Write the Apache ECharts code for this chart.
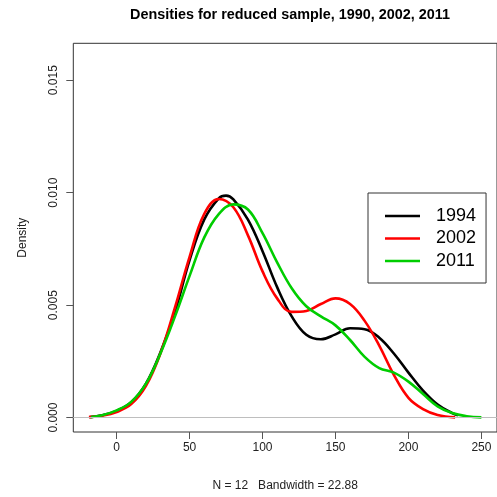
<!DOCTYPE html>
<html>
<head>
<meta charset="utf-8">
<script src="https://cdn.jsdelivr.net/npm/echarts@6/dist/echarts.min.js"></script>
<style>
  html, body { margin: 0; padding: 0; background: #fff; }
  #chart { width: 497px; height: 497px; }
</style>
</head>
<body>
<div id="chart"></div>
<script>
// density estimates
var x1994 = [-18.5, -10, 0, 10, 20, 30, 40, 50, 60, 70, 75, 80, 90, 100, 110, 120, 130, 140, 150, 160, 170, 180, 190, 200, 210, 220, 230, 234];
var y1994 = [0.00002, 0.00010, 0.00030, 0.00068, 0.00150, 0.00290, 0.00470, 0.00700, 0.00880, 0.00975, 0.00987, 0.00970, 0.00880, 0.00740, 0.00580, 0.00450, 0.00368, 0.00348, 0.00370, 0.00397, 0.00393, 0.00355, 0.00285, 0.00200, 0.00120, 0.00058, 0.00020, 0.00010];

var x2002 = [-19, -10, 0, 10, 20, 30, 40, 50, 60, 70, 80, 90, 100, 110, 120, 130, 140, 150, 160, 170, 180, 190, 200, 210, 220, 232];
var y2002 = [0.00002, 0.00008, 0.00025, 0.00060, 0.00140, 0.00285, 0.00490, 0.00715, 0.00905, 0.00972, 0.00935, 0.00810, 0.00650, 0.00530, 0.00470, 0.00474, 0.00505, 0.00530, 0.00505, 0.00430, 0.00320, 0.00190, 0.00088, 0.00038, 0.00012, 0.00001];

var x2011 = [-17.5, -10, 0, 10, 20, 30, 40, 50, 60, 70, 80, 90, 100, 110, 120, 130, 140, 150, 160, 170, 180, 190, 200, 210, 220, 230, 240, 250];
var y2011 = [0.00002, 0.00010, 0.00032, 0.00070, 0.00150, 0.00285, 0.00450, 0.00630, 0.00800, 0.00905, 0.00948, 0.00925, 0.00820, 0.00690, 0.00575, 0.00495, 0.00450, 0.00410, 0.00345, 0.00270, 0.00220, 0.00200, 0.00160, 0.00105, 0.00050, 0.00020, 0.00006, 0.00001];

var xTicks = [0, 50, 100, 150, 200, 250];
var yTicks = [0, 0.005, 0.010, 0.015];

function pairs(xs, ys) {
  return xs.map(function (x, i) { return [x, ys[i]]; });
}

var font = 'Liberation Sans, Arial, sans-serif';

var myChart = echarts.init(document.getElementById('chart'));

let option = {
  animation: false,
  title: {
    text: 'Densities for reduced sample, 1990, 2002, 2011',
    left: 285,
    top: 3,
    textAlign: 'center',
    textStyle: { fontFamily: font, fontSize: 14.4, fontWeight: 'bold', color: '#000' }
  },
  grid: {
    left: 73.3,
    right: -10.7,
    top: 43.3,
    bottom: 64.7,
    show: true,
    borderColor: '#333',
    borderWidth: 1
  },
  legend: {
    orient: 'vertical',
    left: 368,
    top: 193,
    padding: [14, 10, 13, 17],
    itemWidth: 35,
    itemHeight: 2.6,
    itemGap: 4.5,
    icon: 'rect',
    borderColor: '#333',
    borderWidth: 1,
    textStyle: { fontFamily: font, fontSize: 18, lineHeight: 18, color: '#000', padding: [0, 0, 0, 11] },
    data: ['1994', '2002', '2011']
  },
  xAxis: {
    type: 'value',
    min: -29.7,
    max: 260.7,
    name: 'N = 12   Bandwidth = 22.88',
    nameLocation: 'middle',
    nameGap: 48,
    nameTextStyle: { fontFamily: font, fontSize: 12, color: '#222' },
    axisLine: { show: false, onZero: false },
    splitLine: { show: false },
    axisTick: { show: true, length: 7, customValues: xTicks, lineStyle: { color: '#555' } },
    axisLabel: { customValues: xTicks, margin: 10, fontFamily: font, fontSize: 12, color: '#222' }
  },
  yAxis: {
    type: 'value',
    min: -0.00064,
    max: 0.01664,
    name: 'Density',
    nameLocation: 'middle',
    nameGap: 45,
    nameRotate: 90,
    nameTextStyle: { fontFamily: font, fontSize: 12, color: '#222' },
    axisLine: { show: false, onZero: false },
    splitLine: { show: false },
    axisTick: { show: true, length: 7, customValues: yTicks, lineStyle: { color: '#555' } },
    axisLabel: {
      customValues: yTicks,
      rotate: 90,
      margin: 14,
      fontFamily: font,
      fontSize: 12,
      color: '#222',
      formatter: function (v) { return v.toFixed(3); }
    }
  },
  series: [
    {
      name: '1994',
      type: 'line',
      data: pairs(x1994, y1994),
      smooth: 0.4,
      symbol: 'none',
      lineStyle: { color: '#000', width: 2.6 },
      itemStyle: { color: '#000' },
      markLine: {
        silent: true,
        symbol: ['none', 'none'],
        label: { show: false },
        lineStyle: { color: '#bebebe', width: 1, type: 'solid' },
        data: [{ yAxis: 0 }]
      }
    },
    {
      name: '2002',
      type: 'line',
      data: pairs(x2002, y2002),
      smooth: 0.4,
      symbol: 'none',
      lineStyle: { color: '#ff0000', width: 2.6 },
      itemStyle: { color: '#ff0000' }
    },
    {
      name: '2011',
      type: 'line',
      data: pairs(x2011, y2011),
      smooth: 0.4,
      symbol: 'none',
      lineStyle: { color: '#00cd00', width: 2.6 },
      itemStyle: { color: '#00cd00' }
    }
  ]
};
myChart.setOption(option);
</script>
</body>
</html>
